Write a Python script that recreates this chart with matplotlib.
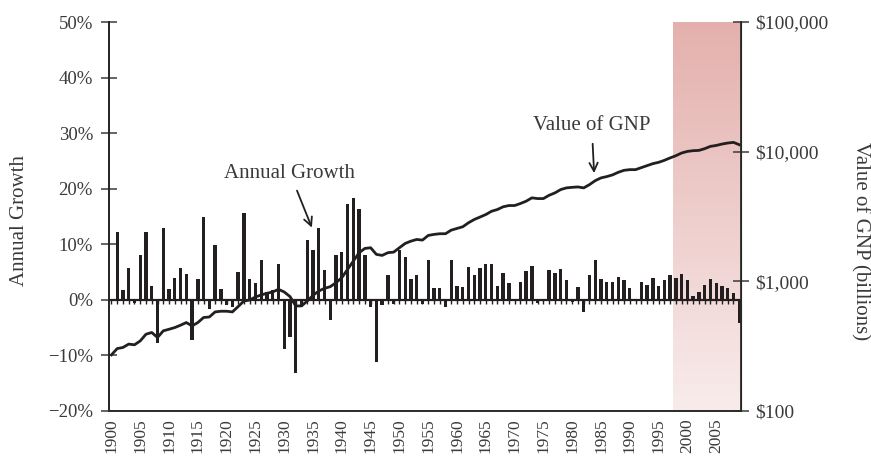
import matplotlib
matplotlib.use("Agg")
import matplotlib.pyplot as plt
import numpy as np
from matplotlib.ticker import FuncFormatter

plt.rcParams['font.family'] = ['Liberation Serif', 'DejaVu Serif']

# annual growth of real GNP (%), 1901-2009
growth_years = list(range(1901, 2010))
growth = [
    12.2, 1.8, 5.7, -0.5, 8.1, 12.3, 2.5, -7.7, 13.0, 1.9,       # 1901-1910
    3.9, 5.7, 4.6, -7.3, 3.8, 15.0, -1.7, 9.8, 1.9, -0.9,        # 1911-1920
    -1.2, 5.1, 15.6, 3.7, 3.0, 7.2, 1.5, 1.7, 6.5, -8.8,         # 1921-1930
    -6.7, -13.2, -1.2, 10.7, 9.0, 12.9, 5.3, -3.6, 8.0, 8.6,     # 1931-1940
    17.3, 18.3, 16.3, 8.1, -1.2, -11.1, -0.9, 4.4, -0.7, 8.9,    # 1941-1950
    7.8, 3.8, 4.4, -0.7, 7.2, 2.1, 2.1, -1.2, 7.2, 2.5,          # 1951-1960
    2.3, 6.0, 4.4, 5.7, 6.4, 6.4, 2.5, 4.8, 3.0, 0.2,            # 1961-1970
    3.3, 5.2, 6.1, -0.5, -0.2, 5.4, 4.8, 5.6, 3.5, -0.3,         # 1971-1980
    2.4, -2.1, 4.4, 7.2, 3.8, 3.3, 3.3, 4.1, 3.5, 2.1,           # 1981-1990
    -0.2, 3.3, 2.7, 3.9, 2.5, 3.6, 4.4, 3.9, 4.6, 3.6,           # 1991-2000
    0.7, 1.5, 2.7, 3.7, 3.0, 2.5, 2.1, 1.2, -4.2,                # 2001-2009
]

# value of GNP ($ billions), 1900-2009
gnp_years = list(range(1900, 2010))
gnp = [
    271, 303, 309, 328, 324, 347, 391, 403, 369, 415,
    427, 440, 459, 481, 453, 481, 526, 531, 581, 588,
    588, 581, 639, 705, 718, 757, 785, 809, 828, 868,
    828, 763, 646, 646, 705, 780, 842, 883, 910, 977,
    1067, 1237, 1433, 1663, 1794, 1816, 1614, 1585, 1663, 1680,
    1816, 1960, 2042, 2104, 2080, 2259, 2301, 2329, 2329, 2483,
    2558, 2636, 2831, 3000, 3133, 3275, 3472, 3579, 3756, 3843,
    3843, 3981, 4150, 4405, 4349, 4349, 4613, 4810, 5103, 5258,
    5310, 5346, 5258, 5572, 5981, 6278, 6427, 6622, 6937, 7183,
    7270, 7270, 7534, 7805, 8085, 8277, 8574, 8951, 9311, 9772,
    10050, 10180, 10230, 10550, 10990, 11170, 11450, 11660, 11800, 11320,
]

shade_start = 1997.5
x_ticks = list(range(1900, 2010, 5))
pct_ticks = [-20, -10, 0, 10, 20, 30, 40, 50]
gnp_ticks = [100, 1000, 10000, 100000]

ink = '#231f20'
txt = '#3a3a3a'

fig = plt.figure(figsize=(8.71, 4.59), dpi=100)
ax = fig.add_axes([0.1251, 0.1046, 0.7256, 0.8474])
ax2 = ax.twinx()

xmin, xmax = 1899.57, 2009.3
ax.set_xlim(xmin, xmax)
ax.set_ylim(-20, 50)

# shaded recent period
grad = np.linspace(0, 1, 256).reshape(-1, 1)
top = np.array([228, 176, 173]) / 255
bot = np.array([248, 236, 235]) / 255
img = top + (bot - top) * grad[:, :, None]
ax.imshow(img, extent=[shade_start, xmax, -20, 50], aspect='auto',
          origin='upper', zorder=0)

# zero baseline with year marks
ax.axhline(0, color=ink, lw=1.6, zorder=2)
ax.vlines(gnp_years, -0.8, 0.2, color=ink, lw=1.0, zorder=2)
ax.bar(growth_years, growth, width=0.58, color=ink, zorder=3)

ax2.set_yscale('log')
ax2.set_ylim(100, 100000)
ax2.plot(gnp_years, gnp, color=ink, lw=2.0, solid_joinstyle='round', zorder=4)

# axes styling
for a in (ax, ax2):
    a.spines['top'].set_visible(False)
for s in ('left', 'right', 'bottom'):
    ax2.spines[s].set_color('#2a2a2a')
    ax2.spines[s].set_linewidth(1.3)
ax.spines['left'].set_linewidth(1.3)
ax.spines['bottom'].set_linewidth(1.3)
ax.spines['bottom'].set_color('#555555')

ax.set_yticks(pct_ticks)
ax.yaxis.set_major_formatter(FuncFormatter(
    lambda v, p: ('\u2212%d%%' % -v) if v < 0 else '%d%%' % v))
ax.tick_params(axis='y', direction='inout', length=11, width=1.1,
               labelsize=13.5, pad=6, colors=txt)
ax.set_xticks(x_ticks)
ax.set_xticklabels([str(y) for y in x_ticks], rotation=90)
ax.tick_params(axis='x', length=0, labelsize=12.5, pad=5, colors=txt)

ax2.set_yticks(gnp_ticks)
ax2.yaxis.set_major_formatter(FuncFormatter(lambda v, p: '${:,.0f}'.format(v)))
ax2.yaxis.set_minor_locator(matplotlib.ticker.NullLocator())
ax2.tick_params(axis='y', direction='inout', length=11, width=1.1,
                labelsize=14, pad=5, colors=txt)

fig.text(0.022, 0.52, 'Annual Growth', rotation=90, ha='center', va='center',
         fontsize=15, color=txt)
fig.text(0.988, 0.475, 'Value of GNP (billions)', rotation=270, ha='center',
         va='center', fontsize=15, color=txt)

ax.annotate('Annual Growth', xy=(1934.8, 13.0), xytext=(1931.0, 22.8),
            ha='center', va='center', fontsize=15, color=txt,
            arrowprops=dict(arrowstyle='->', color=ink, lw=1.3,
                            shrinkA=4, shrinkB=0, mutation_scale=15))
ax.annotate('Value of GNP', xy=(1983.8, 22.8), xytext=(1983.4, 31.3),
            ha='center', va='center', fontsize=15, color=txt,
            arrowprops=dict(arrowstyle='->', color=ink, lw=1.3,
                            shrinkA=4, shrinkB=0, mutation_scale=15))

fig.savefig('out.png', dpi=100)
